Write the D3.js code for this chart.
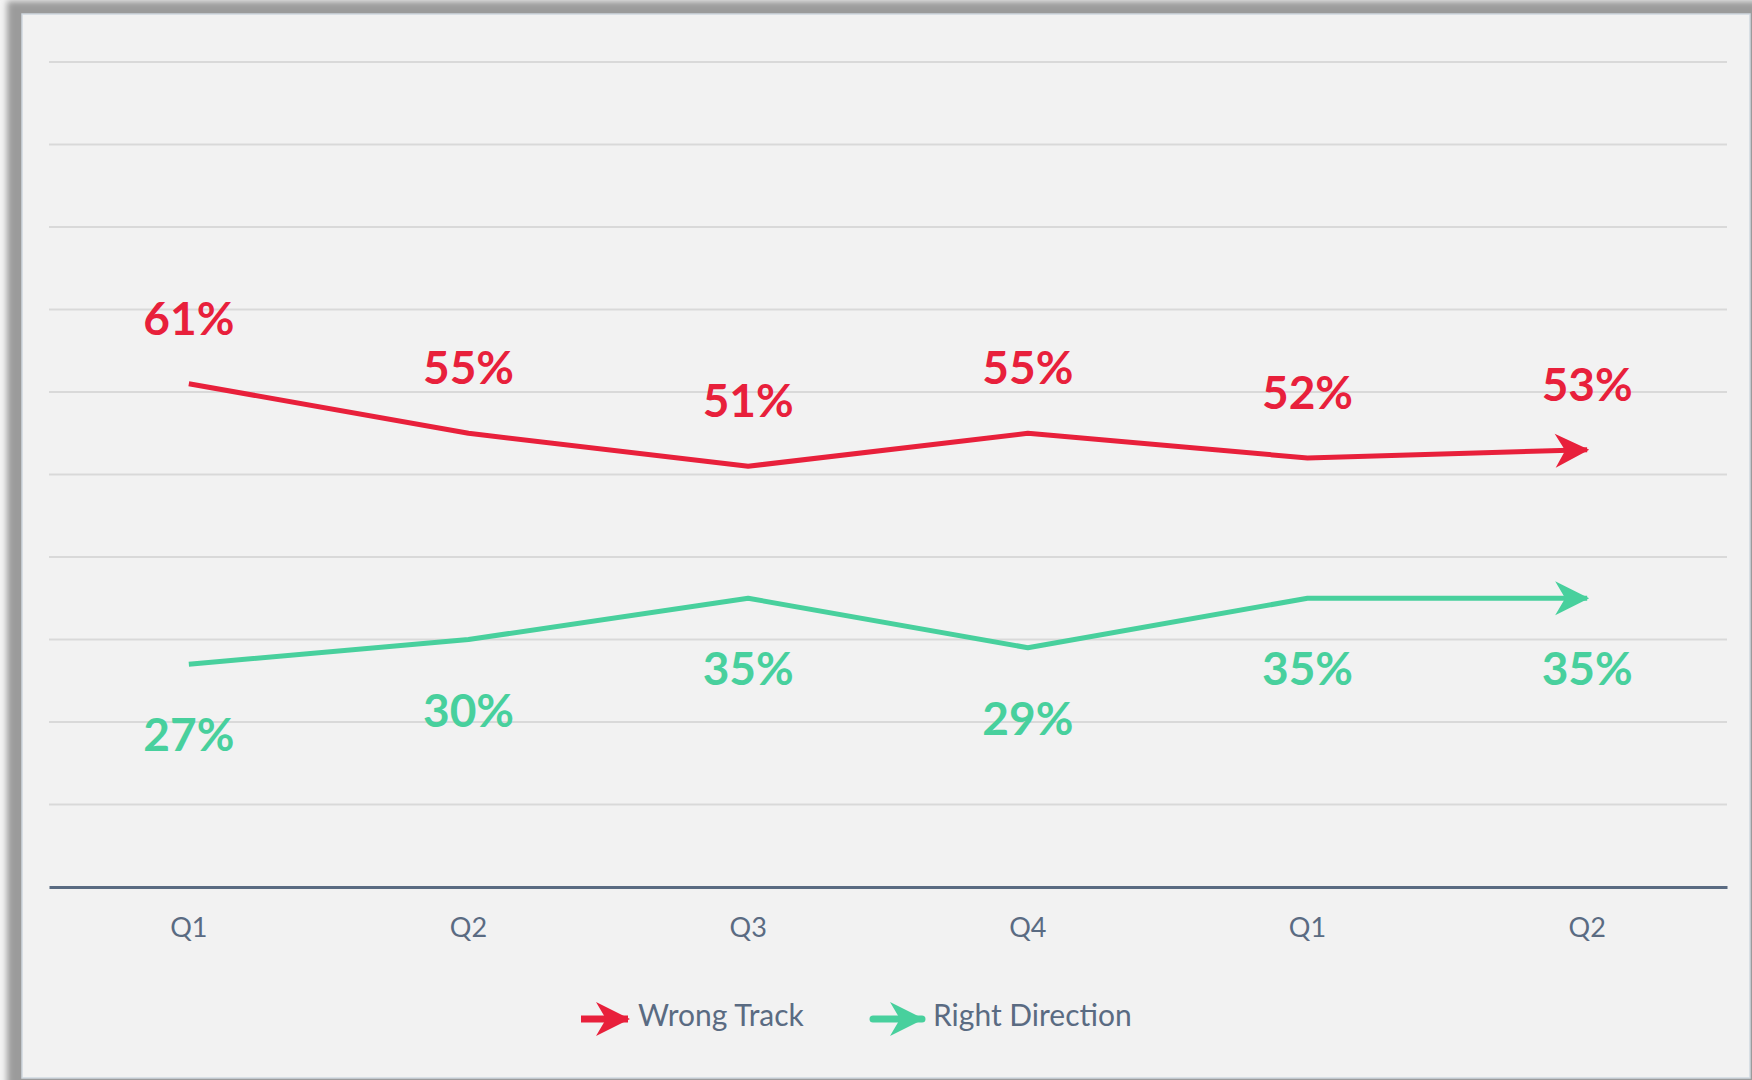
<!DOCTYPE html>
<html>
<head>
<meta charset="utf-8">
<script src="https://cdn.jsdelivr.net/npm/d3@7"></script>
<style>
    html, body { margin: 0; padding: 0; background: #f4f4f4; }
    svg { display: block; }
</style>
</head>
<body>
<div id="chart"></div>
<script>
// Chart data
const quarters = ['Q1', 'Q2', 'Q3', 'Q4', 'Q1', 'Q2'];
const wrongTrack = [61, 55, 51, 55, 52, 53];
const rightDirection = [27, 30, 35, 29, 35, 35];
const seriesNames = ['Wrong Track', 'Right Direction'];
const seriesColors = ['#e8203b', '#48d09d'];

const width = 1752;
const height = 1080;
const plot = { left: 49, right: 1727, top: 62, bottom: 887 };
const textColor = '#5a6b82';
const font = 'Lato, "Open Sans", sans-serif';

const svg = d3.select('#chart')
    .append('svg')
    .attr('width', width)
    .attr('height', height);

const defs = svg.append('defs');

// soft shadow round the panel
defs.append('filter')
    .attr('id', 'blur')
    .attr('x', '-5%').attr('y', '-5%').attr('width', '110%').attr('height', '110%')
    .append('feGaussianBlur')
    .attr('stdDeviation', 3);

svg.append('rect')
    .attr('x', 7).attr('y', 1)
    .attr('width', 1760).attr('height', 1090)
    .attr('fill', '#9b9b9b')
    .attr('filter', 'url(#blur)');

svg.append('rect')
    .attr('x', 22).attr('y', 14)
    .attr('width', 1728).attr('height', 1064)
    .attr('fill', '#f2f2f2')
    .attr('stroke', '#cfd8e0')
    .attr('stroke-width', 1.5);

// arrow markers, one per series
seriesColors.forEach((c, i) => {
    defs.append('marker')
        .attr('id', `arrow${i}`)
        .attr('markerUnits', 'userSpaceOnUse')
        .attr('viewBox', '-36 -18 40 36')
        .attr('markerWidth', 40)
        .attr('markerHeight', 36)
        .attr('refX', 0)
        .attr('refY', 0)
        .attr('orient', 'auto')
        .append('path')
        .attr('d', 'M2,0 L-32,-17 L-22,0 L-32,17 Z')
        .attr('fill', c);
});

const x = d3.scaleBand()
    .domain(d3.range(quarters.length))
    .range([plot.left, plot.right])
    .padding(0);

const y = d3.scaleLinear()
    .domain([0, 100])
    .range([plot.bottom, plot.top]);

const cx = i => x(i) + x.bandwidth() / 2;

// gridlines
svg.append('g')
    .selectAll('line')
    .data(y.ticks(10).filter(t => t > 0))
    .enter()
    .append('line')
    .attr('x1', plot.left)
    .attr('x2', plot.right)
    .attr('y1', d => y(d))
    .attr('y2', d => y(d))
    .attr('stroke', '#d9d9d9')
    .attr('stroke-width', 2);

// category axis
const xAxis = svg.append('g')
    .attr('transform', `translate(0,${plot.bottom})`)
    .call(d3.axisBottom(x).tickSize(0).tickPadding(0).tickFormat(i => quarters[i]));

xAxis.select('.domain')
    .attr('stroke', textColor)
    .attr('stroke-width', 3);

xAxis.selectAll('text')
    .attr('dy', null)
    .attr('y', 50)
    .attr('fill', textColor)
    .style('font-family', font)
    .style('font-size', '27px');

// series lines and labels
const series = [wrongTrack, rightDirection];
const labelOffset = [-49, 87];

const line = d3.line()
    .x((d, i) => cx(i))
    .y(d => y(d));

series.forEach((values, s) => {
    svg.append('path')
        .datum(values)
        .attr('d', line)
        .attr('fill', 'none')
        .attr('stroke', seriesColors[s])
        .attr('stroke-width', 5)
        .attr('stroke-linejoin', 'round')
        .attr('marker-end', `url(#arrow${s})`);

    svg.append('g')
        .selectAll('text')
        .data(values)
        .enter()
        .append('text')
        .attr('x', (d, i) => cx(i))
        .attr('y', d => y(d) + labelOffset[s])
        .attr('text-anchor', 'middle')
        .attr('fill', seriesColors[s])
        .style('font-family', font)
        .style('font-weight', 'bold')
        .style('font-size', '46px')
        .text(d => `${d}%`);
});

// legend
const legendY = 1019;
const legendItems = [
    { x1: 581, x2: 630, tx: 638 },
    { x1: 873, x2: 924, tx: 933 }
];

legendItems.forEach((item, s) => {
    svg.append('line')
        .attr('x1', item.x1)
        .attr('x2', item.x2 - 2)
        .attr('y1', legendY)
        .attr('y2', legendY)
        .attr('stroke', seriesColors[s])
        .attr('stroke-width', 7)
        .attr('stroke-linecap', s === 1 ? 'round' : 'butt')
        .attr('marker-end', `url(#arrow${s})`);

    svg.append('text')
        .attr('x', item.tx)
        .attr('y', 1026)
        .attr('fill', textColor)
        .style('font-family', font)
        .style('font-size', '30px')
        .text(seriesNames[s]);
});
</script>
</body>
</html>
